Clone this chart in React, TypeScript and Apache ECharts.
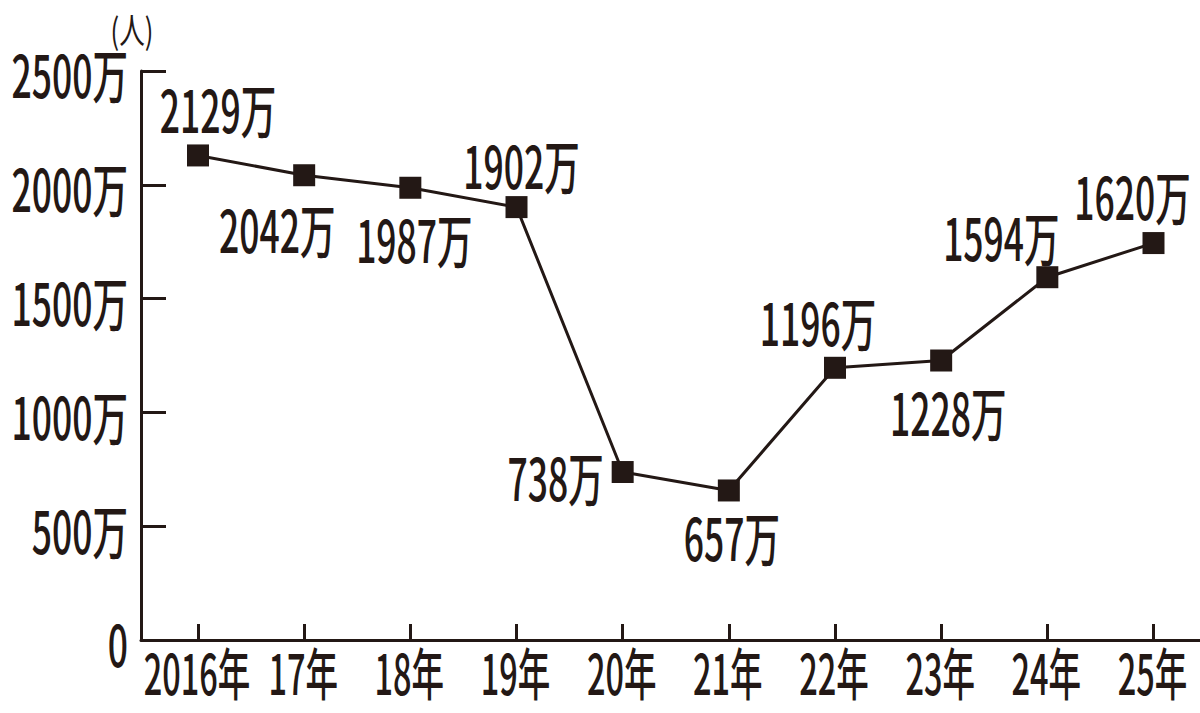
import React, { useEffect, useRef } from "react";
import * as echarts from "echarts";

// ---- data ----
const categories = ["2016年", "17年", "18年", "19年", "20年", "21年", "22年", "23年", "24年", "25年"];
// plotted positions (the 25 marker sits higher than its printed label)
const values = [2129, 2042, 1987, 1902, 738, 657, 1196, 1228, 1594, 1744];
// printed values
const labelValues = [2129, 2042, 1987, 1902, 738, 657, 1196, 1228, 1594, 1620];
const yTicks = [0, 500, 1000, 1500, 2000, 2500];
const unitLabel = "(人)";
const unitSuffix = "万";

// ---- layout / style (not data) ----
const INK = "#231815";
const FONT = '"Noto Sans CJK JP", "Noto Sans", sans-serif';
const labelOffsets: [number, number][] = [
  [20, -48],
  [-27, 52],
  [4, 50],
  [5, -43],
  [-67, 4],
  [3, 45],
  [-17, -47],
  [7, 50],
  [-46, -42],
  [-21, -48],
];

function txt(text: string, x: number, y: number, align: string, size: number, sx: number, sy: number, weight: string | number) {
  return {
    type: "text",
    x,
    y,
    scaleX: sx,
    scaleY: sy,
    silent: true,
    z: 10,
    style: {
      text,
      fill: INK,
      fontSize: size,
      fontFamily: FONT,
      fontWeight: weight,
      align,
      verticalAlign: "middle",
      textAlign: align,
      textVerticalAlign: "middle",
    },
  };
}

export default function App() {
  const ref = useRef<HTMLDivElement>(null);
  useEffect(() => {
    if (!ref.current) return;
    const chart = echarts.init(ref.current, null, { renderer: "svg" });
    const idx = categories.map((_, i) => i);
    chart.setOption({
      animation: false,
      backgroundColor: "#ffffff",
      grid: { left: 141, right: 0, top: 71, bottom: 73, containLabel: false },
      xAxis: {
        type: "value",
        min: -0.537,
        max: 9.438,
        axisLine: { show: true, onZero: false, lineStyle: { color: INK, width: 3 } },
        axisTick: { show: true, inside: true, length: 16, lineStyle: { color: INK, width: 3 }, customValues: idx },
        axisLabel: { show: false },
        splitLine: { show: false },
      },
      yAxis: {
        type: "value",
        min: 0,
        max: 2500,
        interval: 500,
        axisLine: { show: true, onZero: false, lineStyle: { color: INK, width: 3 } },
        axisTick: { show: true, inside: true, length: 25, lineStyle: { color: INK, width: 3 } },
        axisLabel: { show: false },
        splitLine: { show: false },
      },
      series: [
        {
          type: "line",
          data: values.map((v, i) => [i, v]),
          symbol: "rect",
          symbolSize: 22,
          itemStyle: { color: INK },
          lineStyle: { color: INK, width: 3 },
          label: { show: false },
          z: 3,
        },
      ],
    });

    const g: any[] = [];
    values.forEach((v, i) => {
      const p = chart.convertToPixel({ gridIndex: 0 }, [i, v]) as number[];
      const [dx, dy] = labelOffsets[i];
      g.push(txt(`${labelValues[i]}${unitSuffix}`, p[0] + dx, p[1] + dy, "center", 50, 0.71, 1.16, 500));
    });
    yTicks.forEach((t) => {
      const p = chart.convertToPixel({ gridIndex: 0 }, [0, t]) as number[];
      const text = t === 0 ? "0" : `${t}${unitSuffix}`;
      g.push(txt(text, 128, p[1] + 2, "right", 50, 0.71, 1.16, 500));
    });
    categories.forEach((c, i) => {
      const p = chart.convertToPixel({ gridIndex: 0 }, [i, 0]) as number[];
      g.push(txt(c, p[0] - 1, 671, "center", 50, 0.65, 1.12, 500));
    });
    g.push(txt(unitLabel, 132, 29, "center", 32, 0.8, 1.1, "normal"));
    chart.setOption({ graphic: g });

    return () => chart.dispose();
  }, []);
  return (
    <div
      ref={ref}
      style={{ position: "fixed", left: 0, top: 0, width: 1200, height: 713, background: "#fff" }}
    />
  );
}
